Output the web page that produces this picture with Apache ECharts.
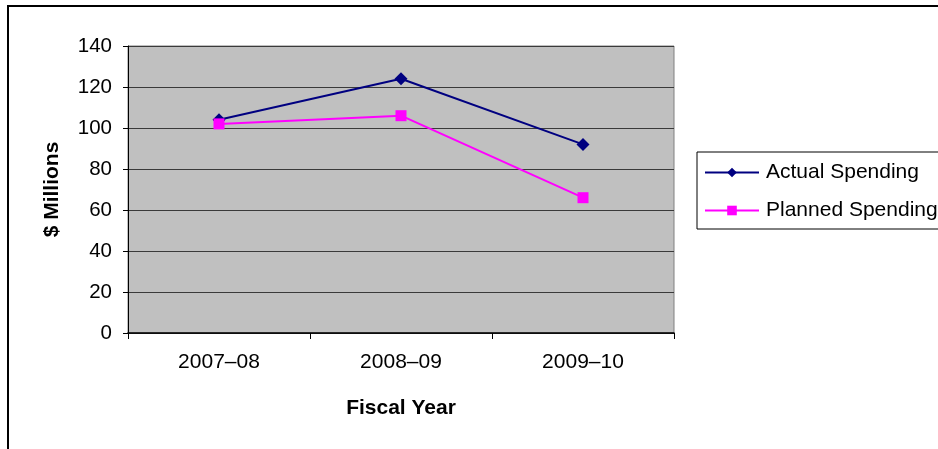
<!DOCTYPE html>
<html>
<head>
<meta charset="utf-8">
<script src="https://cdn.jsdelivr.net/npm/echarts@6/dist/echarts.min.js"></script>
<style>
  html, body { margin: 0; padding: 0; background: #fff; }
  #chart { width: 938px; height: 449px; }
</style>
</head>
<body>
<div id="chart"></div>
<script>
// Fiscal years on the category axis
const fiscalYears = ['2007–08', '2008–09', '2009–10'];
// Spending in $ millions
const actualSpending = [104, 124, 92];
const plannedSpending = [102, 106, 66];
// Value axis range
const yMin = 0, yMax = 140, yStep = 20;

const chart = echarts.init(document.getElementById('chart'), null, { renderer: 'canvas' });
const font = 'Liberation Sans, Arial, sans-serif';

chart.setOption({
  animation: false,
  backgroundColor: '#ffffff',
  graphic: [{
    type: 'rect',
    shape: { x: 8, y: 6, width: 1000, height: 500 },
    style: { fill: 'none', stroke: '#000', lineWidth: 2 },
    silent: true,
    z: 100
  }],
  grid: {
    left: 128, top: 46, width: 546, height: 287,
    show: true, backgroundColor: '#c0c0c0',
    borderColor: '#808080', borderWidth: 1
  },
  legend: {
    orient: 'vertical',
    left: 697, top: 152,
    padding: [10, 60, 8, 7],
    itemGap: 17,
    itemWidth: 54, itemHeight: 12,
    borderColor: '#000', borderWidth: 1,
    backgroundColor: '#fff',
    textStyle: { fontFamily: font, fontSize: 21, color: '#000', padding: [0, 0, 0, 2] },
    data: ['Actual Spending', 'Planned Spending']
  },
  xAxis: {
    type: 'category',
    data: fiscalYears,
    boundaryGap: true,
    name: 'Fiscal Year',
    nameLocation: 'middle',
    nameGap: 65,
    nameTextStyle: { fontFamily: font, fontSize: 21, fontWeight: 'bold', color: '#000' },
    axisLine: { lineStyle: { color: '#000', width: 1.5 } },
    axisTick: { show: true, length: 6, lineStyle: { color: '#000' } },
    axisLabel: { fontFamily: font, fontSize: 21, color: '#000', margin: 19 }
  },
  yAxis: {
    type: 'value',
    min: yMin, max: yMax, interval: yStep,
    name: '$ Millions',
    nameLocation: 'middle',
    nameGap: 65,
    nameRotate: 90,
    nameTextStyle: { fontFamily: font, fontSize: 21, fontWeight: 'bold', color: '#000' },
    axisLine: { show: true, lineStyle: { color: '#000', width: 1 } },
    axisTick: { show: true, length: 5, lineStyle: { color: '#000' } },
    axisLabel: { fontFamily: font, fontSize: 20.5, color: '#000', margin: 16 },
    splitLine: { show: true, lineStyle: { color: '#3a3a3a', width: 1 } }
  },
  series: [
    {
      name: 'Actual Spending',
      type: 'line',
      data: actualSpending,
      symbol: 'diamond',
      symbolSize: 13,
      lineStyle: { color: '#000080', width: 2 },
      itemStyle: { color: '#000080' },
      z: 3
    },
    {
      name: 'Planned Spending',
      type: 'line',
      data: plannedSpending,
      symbol: 'rect',
      symbolSize: 11,
      lineStyle: { color: '#ff00ff', width: 2 },
      itemStyle: { color: '#ff00ff' },
      z: 4
    }
  ]
});
</script>
</body>
</html>
